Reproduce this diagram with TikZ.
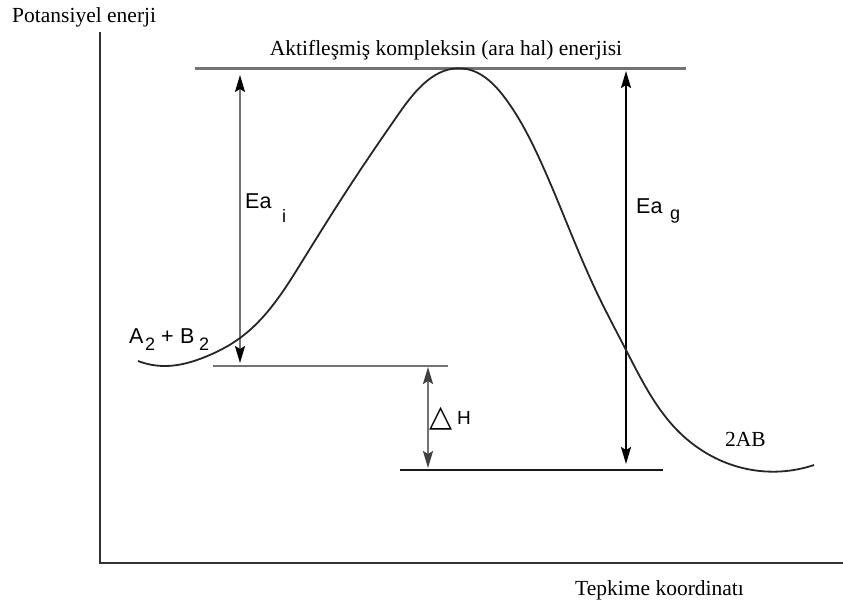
\documentclass[tikz,border=0pt]{standalone}
\usepackage{fontspec}
\setmainfont{Liberation Serif}
\newfontfamily\arialf{Liberation Sans}
\newfontfamily\symf{DejaVu Sans}
\usetikzlibrary{arrows.meta,hobby}
\begin{document}
\begin{tikzpicture}[x=1pt,y=-1pt,
  serif/.style={inner sep=0pt,font=\fontsize{21.5}{25}\selectfont},
  sans/.style={inner sep=0pt,font=\arialf\fontsize{21.5}{25}\selectfont},
  subs/.style={inner sep=0pt,font=\arialf\fontsize{18}{21}\selectfont},
  axisline/.style={line width=2.4pt,draw=black!80},
  level/.style={line width=2.2pt},
  dimarrow/.style={line width=2pt,{Stealth[length=17pt,width=10pt,inset=3pt]}-{Stealth[length=17pt,width=10pt,inset=3pt]}},
  curve/.style={line width=1.8pt,draw=black!85}]
\useasboundingbox (0,0) rectangle (843,608);
% axes
\coordinate (ytop) at (100,32);
\coordinate (orig) at (100,563);
\coordinate (xend) at (843,563);
\draw[axisline] (ytop) -- (orig) -- (xend);
% levels
\coordinate (tl) at (195,68.5); \coordinate (tr) at (686,68.5);
\coordinate (ml) at (213,366); \coordinate (mr) at (448,366);
\coordinate (bl) at (400,470); \coordinate (br) at (663,470);
\draw[level,draw=black!55] (tl) -- (tr);
\draw[level,draw=black!55] (ml) -- (mr);
\draw[line width=1.8pt,draw=black!90] (bl) -- (br);
% arrows
\coordinate (eait) at (240,75); \coordinate (eaib) at (240,363);
\coordinate (eagt) at (626,71); \coordinate (eagb) at (626,464);
\coordinate (dht) at (428,367); \coordinate (dhb) at (428,468);
\draw[dimarrow,draw=black!55,{Stealth[length=17pt,width=10pt,inset=3pt,black]}-{Stealth[length=17pt,width=10pt,inset=3pt,black]}] (eait) -- (eaib);
\draw[dimarrow,draw=black] (eagt) -- (eagb);
\draw[dimarrow,draw=black!55,{Stealth[length=17pt,width=10pt,inset=3pt,black!75]}-{Stealth[length=17pt,width=10pt,inset=3pt,black!75]}] (dht) -- (dhb);
% curve
\draw[curve,use Hobby shortcut] (138,361) .. (166,366) .. (205,357) .. (240,338) .. (303,260) .. (357,175) .. (400,112) .. (463,68.5) .. (505,98) .. (540,160) .. (597,293) .. (626,350) .. (680,433) .. (747,469) .. (814,465);
% texts
\node[serif,anchor=base west] (ylab) at (12,22) {Potansiyel enerji};
\node[serif,anchor=base west] (xlab) at (575,595) {Tepkime koordinatı};
\node[serif,anchor=base] (top) at (446,55) {Aktifleşmiş kompleksin (ara hal) enerjisi};
\node[serif,anchor=base west] (prod) at (725,446) {2AB};
\node[sans,anchor=base west] (eai) at (245,208) {Ea};
\node[subs,anchor=base west] (eais) at (282,222) {i};
\node[sans,anchor=base west] (eag) at (636,213) {Ea};
\node[subs,anchor=base west] (eags) at (670,219) {g};
\node[sans,anchor=base west] (ra) at (129,343) {A};
\node[subs,anchor=base west] (ra2) at (145,350) {2};
\node[sans,anchor=base west] (rp) at (161,343) {+};
\node[sans,anchor=base west] (rb) at (180,343) {B};
\node[subs,anchor=base west] (rb2) at (199,350) {2};
\node[inner sep=0pt,anchor=base west,font=\symf\fontsize{30}{33}\selectfont] (tri) at (429,426) {△};
\node[inner sep=0pt,anchor=base west,font=\arialf\fontsize{19}{22}\selectfont] (dh) at (457,424) {H};
\end{tikzpicture}
\end{document}
